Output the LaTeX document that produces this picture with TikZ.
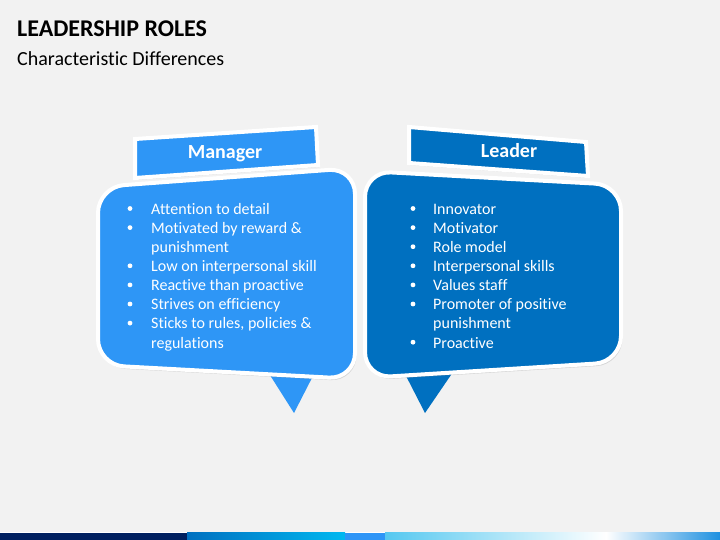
\documentclass[tikz,border=0pt]{standalone}
\usepackage{fontspec}
\setmainfont{Carlito}[Ligatures={NoCommon,NoRare,NoContextual}, Contextuals=NoAlternate]
\usetikzlibrary{shadows}

\definecolor{slidebg}{HTML}{F2F2F2}
\definecolor{mgrblue}{HTML}{2E96F6}
\definecolor{ldrblue}{HTML}{0070C0}
\definecolor{barnavy}{HTML}{002060}
\definecolor{barmid}{HTML}{2E95F7}
\definecolor{barsky}{HTML}{00B8F0}
\definecolor{barpale}{HTML}{55C8F0}
\definecolor{barend}{HTML}{1E90E0}

\tikzset{
  card/.style={draw=white, line width=4pt, rounded corners=26pt,
    drop shadow={shadow xshift=1.5pt, shadow yshift=-2.5pt, opacity=0.25}},
  tab/.style={draw=white, line width=4pt,
    drop shadow={shadow xshift=1pt, shadow yshift=-2pt, opacity=0.25}},
  tabtext/.style={anchor=base, inner sep=0pt, text=white, font=\bfseries\fontsize{20}{24}\selectfont},
  itemtext/.style={anchor=base west, inner sep=0pt, text=white, font=\fontsize{16}{19}\selectfont}
}

\begin{document}
\begin{tikzpicture}[x=1pt,y=-1pt]

  \fill[slidebg] (0,0) rectangle (720,540);
  \useasboundingbox (0,0) rectangle (720,540);

  \node[anchor=base west, inner sep=0pt, font=\bfseries\fontsize{24}{28}\selectfont] (title) at (17,36.5) {LEADERSHIP ROLES};
  \node[anchor=base west, inner sep=0pt, font=\fontsize{20}{24}\selectfont] (subtitle) at (17,66) {Characteristic Differences};

  % pointers
  \fill[mgrblue] (268,372) -- (315,372) -- (294,413) -- cycle;
  \fill[ldrblue] (404,372) -- (453,372) -- (425,413) -- cycle;

  % cards
  \draw[card, fill=mgrblue] (98,187) -- (355,168) -- (355,379) -- (98,365) -- cycle;
  \draw[card, fill=ldrblue] (365,171) -- (621,185) -- (621,362) -- (365,378) -- cycle;

  % headers
  \draw[tab, fill=mgrblue] (135,139) -- (316,127) -- (318,165) -- (135,178) -- cycle;
  \draw[tab, fill=ldrblue] (409,127) -- (586,142) -- (588,176) -- (409,163) -- cycle;
  \node[tabtext] (mgr-head) at (225,159) {Manager};
  \node[tabtext] (ldr-head) at (509,157.3) {Leader};

  \foreach \dot/\txt [count=\i] in {1/Attention to detail, 1/Motivated by reward \&, 0/punishment,
      1/Low on interpersonal skill, 1/Reactive than proactive, 1/Strives on efficiency,
      1/{Sticks to rules, policies \&}, 0/regulations}{
    \node[itemtext] (mgr-\i) at (151,{214.3+19.1*(\i-1)}) {\txt};
    \ifnum\dot=1 \fill[white] (130,{208.5+19.1*(\i-1)}) circle (2.4); \fi
  }

  \foreach \dot/\txt [count=\i] in {1/Innovator, 1/Motivator, 1/Role model, 1/Interpersonal skills,
      1/Values staff, 1/Promoter of positive, 0/punishment, 1/Proactive}{
    \node[itemtext] (ldr-\i) at (433,{214.3+19.1*(\i-1)}) {\txt};
    \ifnum\dot=1 \fill[white] (413,{208.5+19.1*(\i-1)}) circle (2.4); \fi
  }

  % bottom bar
  \fill[white] (0,531.5) rectangle (720,532.5);
  \fill[barnavy] (0,532.5) rectangle (187,540);
  \shade[left color=ldrblue, right color=barsky] (187,532.5) rectangle (345,540);
  \fill[barmid] (345,532.5) rectangle (385,540);
  \shade[left color=barpale, right color=white] (385,532.5) rectangle (606,540);
  \shade[left color=white, right color=barend] (606,532.5) rectangle (720,540);

\end{tikzpicture}
\end{document}
